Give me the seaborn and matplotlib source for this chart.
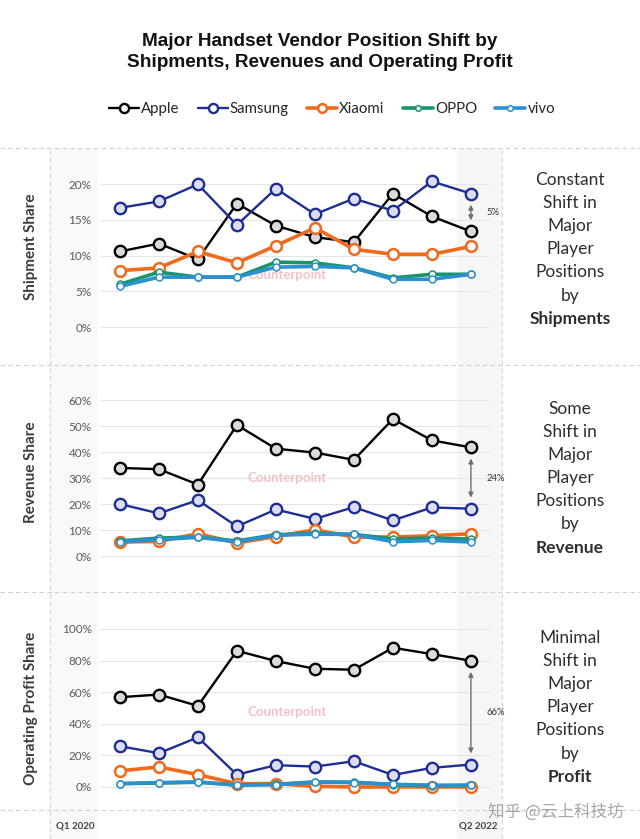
import numpy as np
import pandas as pd
import matplotlib
matplotlib.use("Agg")
import matplotlib.pyplot as plt
import seaborn as sns
from matplotlib.patches import Rectangle
from matplotlib.lines import Line2D

# Quarterly data, Q1 2020 .. Q2 2022 (values in %)
quarters = ["Q1 2020", "Q2 2020", "Q3 2020", "Q4 2020", "Q1 2021",
            "Q2 2021", "Q3 2021", "Q4 2021", "Q1 2022", "Q2 2022"]
vendors = ["Apple", "Samsung", "Xiaomi", "OPPO", "vivo"]

ship_apple = [10.6, 11.7, 9.5, 17.3, 14.2, 12.6, 11.9, 18.7, 15.5, 13.4]
ship_samsung = [16.7, 17.6, 20.0, 14.3, 19.4, 15.8, 18.0, 16.3, 20.4, 18.7]
ship_xiaomi = [7.9, 8.3, 10.6, 9.0, 11.4, 13.9, 10.9, 10.2, 10.2, 11.3]
ship_oppo = [6.0, 7.7, 7.0, 7.0, 9.1, 9.0, 8.3, 6.9, 7.4, 7.4]
ship_vivo = [5.7, 7.0, 7.0, 7.0, 8.4, 8.5, 8.3, 6.7, 6.7, 7.4]

rev_apple = [33.9, 33.4, 27.5, 50.4, 41.3, 39.8, 37.0, 52.7, 44.5, 41.8]
rev_samsung = [20.0, 16.4, 21.5, 11.4, 17.9, 14.3, 18.8, 13.7, 18.7, 18.2]
rev_xiaomi = [5.4, 5.6, 8.6, 5.0, 7.5, 10.1, 7.3, 7.3, 7.8, 8.6]
rev_oppo = [5.8, 6.9, 7.3, 5.8, 8.2, 8.8, 8.3, 6.6, 6.9, 6.5]
rev_vivo = [5.4, 6.3, 7.2, 5.5, 8.0, 8.4, 8.3, 5.5, 6.0, 5.4]

prof_apple = [56.8, 58.5, 51.3, 86.2, 79.7, 74.8, 74.2, 88.1, 84.1, 79.9]
prof_samsung = [25.8, 21.4, 31.4, 7.8, 13.8, 12.9, 16.3, 7.6, 12.1, 14.2]
prof_xiaomi = [10.2, 12.7, 7.8, 2.1, 2.1, 0.4, 0.0, 0.0, 0.0, 0.0]
prof_oppo = [2.1, 2.5, 3.0, 1.3, 1.7, 3.2, 3.0, 1.5, 0.8, 1.0]
prof_vivo = [2.1, 2.8, 3.2, 1.1, 1.5, 3.0, 2.8, 1.7, 1.1, 1.1]

panel_titles = ["Shipment Share", "Revenue Share", "Operating Profit Share"]
side_text = [
    ["Constant", "Shift in", "Major", "Player", "Positions", "by", "Shipments"],
    ["Some", "Shift in", "Major", "Player", "Positions", "by", "Revenue"],
    ["Minimal", "Shift in", "Major", "Player", "Positions", "by", "Profit"],
]
yticks = [[0, 5, 10, 15, 20], [0, 10, 20, 30, 40, 50, 60], [0, 20, 40, 60, 80, 100]]

panels = [
    [ship_apple, ship_samsung, ship_xiaomi, ship_oppo, ship_vivo],
    [rev_apple, rev_samsung, rev_xiaomi, rev_oppo, rev_vivo],
    [prof_apple, prof_samsung, prof_xiaomi, prof_oppo, prof_vivo],
]

# styling per vendor
STYLE = {
    "Apple":   dict(color="#000000", mfc="#dadade", ms=8.2, mew=1.7, lw=1.7),
    "Samsung": dict(color="#1f2e94", mfc="#dcdef0", ms=8.2, mew=1.7, lw=1.7),
    "Xiaomi":  dict(color="#f06a1e", mfc="#ffffff", ms=7.8, mew=1.8, lw=2.6),
    "OPPO":    dict(color="#1b946a", mfc="#ffffff", ms=5.0, mew=1.1, lw=2.6),
    "vivo":    dict(color="#2a90cf", mfc="#ffffff", ms=5.0, mew=1.1, lw=2.6),
}

sns.set_theme(style="white")
plt.rcParams["font.family"] = ["Lato", "DejaVu Sans"]

W, H = 640, 839
fig = plt.figure(figsize=(6.4, 8.39), dpi=100)
fig.patch.set_facecolor("white")


def fx(x):
    return x / W


def fy(y):
    return 1 - y / H


# faint background strips (left label column and Q2 2022 highlight), behind the axes
fig.patches.append(Rectangle((fx(50), 0), fx(48), fy(148), transform=fig.transFigure,
                             facecolor="#f9f9f9", edgecolor="none", zorder=-10))
fig.patches.append(Rectangle((fx(457), 0), fx(45), fy(148), transform=fig.transFigure,
                             facecolor="#f6f6f6", edgecolor="none", zorder=-10))

# dashed separators
for yy in [148, 365, 592, 810]:
    fig.add_artist(Line2D([0, 1], [fy(yy), fy(yy)], transform=fig.transFigure,
                          color="#cfcfcf", lw=0.8, ls=(0, (4, 3)), zorder=-5))
for xx in [50, 502]:
    fig.add_artist(Line2D([fx(xx), fx(xx)], [0, fy(148)], transform=fig.transFigure,
                          color="#d5d5d5", lw=0.8, ls=(0, (4, 3)), zorder=-5))

# title
fig.text(0.5, fy(52), "Major Handset Vendor Position Shift by\nShipments, Revenues and Operating Profit",
         ha="center", va="center", fontsize=13.7, fontweight="bold", linespacing=1.3,
         family="Liberation Sans", color="#111111")

# axes geometry: (top px, bottom px, ylim)
geoms = [(170, 360, (-4.6, 22.0)), (385, 585, (-11.15, 65.8)), (610, 805, (-11.4, 112.0))]
label_y = [247, 472, 708]
side_start = [180, 409, 638]
mark_y = [275, 478, 712]

x_idx = np.arange(len(quarters))
legend_handles = []

for p, (top, bot, ylim) in enumerate(geoms):
    ax = fig.add_axes([fx(100), fy(bot), fx(390), (bot - top) / H])
    ax.set_facecolor("none")
    for yv in yticks[p]:
        ax.axhline(yv, color="#e6e6e6", lw=0.8, zorder=0)

    df = pd.DataFrame({"x": np.tile(x_idx, len(vendors)),
                       "share": np.concatenate(panels[p]),
                       "vendor": np.repeat(vendors, len(quarters))})
    for i, v in enumerate(vendors):
        st = STYLE[v]
        sub = df[df["vendor"] == v]
        sns.lineplot(data=sub, x="x", y="share", ax=ax, color=st["color"], lw=st["lw"],
                     marker="o", markersize=st["ms"], markerfacecolor=st["mfc"],
                     markeredgecolor=st["color"], markeredgewidth=st["mew"],
                     zorder=3 + i, legend=False)
        if p == 0:
            legend_handles.append(Line2D([], [], color=st["color"], lw=st["lw"], marker="o",
                                         markersize=st["ms"] * 0.8, markerfacecolor="white",
                                         markeredgecolor=st["color"], markeredgewidth=st["mew"],
                                         label=v))

    ax.set_xlim(-0.51, 9.49)
    ax.set_ylim(*ylim)
    ax.set_yticks(yticks[p])
    ax.set_yticklabels([f"{t}%" for t in yticks[p]], color="#5a5a5a", fontsize=8.5)
    ax.tick_params(axis="y", length=0, pad=6)
    ax.set_xticks([])
    ax.set_xlabel("")
    ax.set_ylabel("")
    for s in ax.spines.values():
        s.set_visible(False)

    # gap arrow between Apple and Samsung at last quarter
    a_last = panels[p][0][-1]
    s_last = panels[p][1][-1]
    ax.annotate("", xy=(9, min(a_last, s_last)), xytext=(9, max(a_last, s_last)),
                arrowprops=dict(arrowstyle="<|-|>", color="#6e6e6e", lw=1.0,
                                mutation_scale=7, shrinkA=8, shrinkB=8), zorder=2)
    ax.text(9.4, (a_last + s_last) / 2, f"{abs(a_last - s_last):.0f}%", fontsize=6.8,
            color="#333333", ha="left", va="center", clip_on=False)

    # faint watermark behind the lines
    ax.text(fx(287), fy(mark_y[p]), "Counterpoint", transform=fig.transFigure,
            ha="center", va="center", fontsize=9.5, fontweight="bold",
            color="#f3c1c5", zorder=1)

    # panel label (rotated)
    fig.text(fx(31), fy(label_y[p]), panel_titles[p], rotation=90, ha="center", va="center",
             fontsize=11, fontweight="bold", color="#3c3c3c")

    # side commentary
    lines = side_text[p]
    for k, t in enumerate(lines):
        fig.text(fx(570), fy(side_start[p] + k * 23.1), t, ha="center", va="center",
                 fontsize=12.5, color="#2e2e2e",
                 fontweight="bold" if k == len(lines) - 1 else "normal")

# legend
fig.legend(handles=legend_handles, loc="center", bbox_to_anchor=(fx(332), fy(109)),
           ncol=5, frameon=False, fontsize=10.8, handlelength=2.0, handletextpad=0.15,
           columnspacing=1.2)

# bottom axis labels
fig.text(fx(75), fy(826), quarters[0], ha="center", va="center", fontsize=7,
         fontweight="bold", color="#444444")
fig.text(fx(478), fy(826), quarters[-1], ha="center", va="center", fontsize=7,
         fontweight="bold", color="#444444")

# source watermark
fig.text(fx(556), fy(812), "知乎 @云上科技坊", ha="center", va="center", fontsize=12,
         color="#a6a6a6", family=["Noto Sans CJK SC", "DejaVu Sans"])

fig.savefig("out.png", dpi=100)
